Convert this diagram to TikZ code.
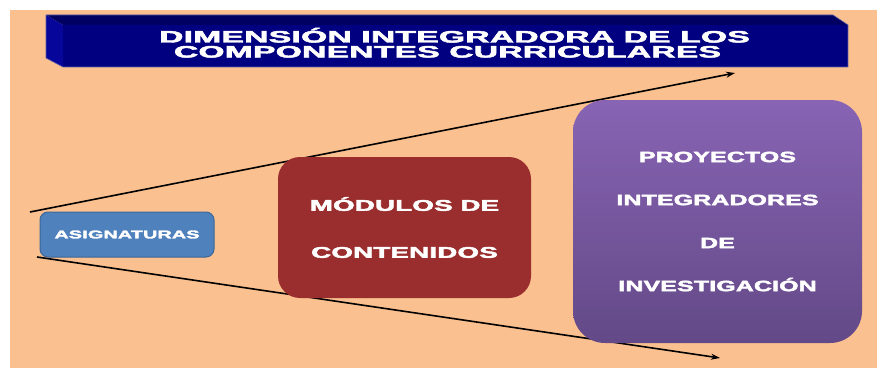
\documentclass[tikz,border=0pt]{standalone}
\usepackage{fontspec}
\usetikzlibrary{positioning, arrows.meta}
\newfontfamily\boxfont{Liberation Sans Bold}[LetterSpace=1, FakeBold=2.5]
\newcommand{\widetxt}[2][1.65]{\scalebox{#1}[1]{#2}}
\definecolor{peachBack}{HTML}{FAC08F}
\definecolor{navyFront}{HTML}{000080}
\definecolor{navyTop}{HTML}{000062}
\definecolor{navySide}{HTML}{06069A}
\definecolor{navyEdge}{HTML}{5A5AA8}
\definecolor{asigFill}{HTML}{4F81BD}
\definecolor{asigLine}{HTML}{3C6698}
\definecolor{modFill}{HTML}{9A2D2D}
\definecolor{proyTop}{HTML}{8864B4}
\definecolor{proyBottom}{HTML}{634987}
\tikzset{
    asig_box/.style={
        rectangle,
        rounded corners=8pt,
        draw=asigLine,
        line width=1pt,
        fill=asigFill,
        outer sep=0pt,
        minimum width=174pt,
        minimum height=45pt,
        text=white,
        font=\boxfont\fontsize{11.2}{14}\selectfont
    },
    mod_box/.style={
        rectangle,
        rounded corners=22pt,
        fill=modFill,
        outer sep=0pt,
        minimum width=253pt,
        minimum height=141pt,
        text=white,
        align=center,
        font=\boxfont\fontsize{15.5}{47}\selectfont
    },
    proy_box/.style={
        rectangle,
        rounded corners=32pt,
        top color=proyTop,
        bottom color=proyBottom,
        outer sep=0pt,
        minimum width=289pt,
        minimum height=243pt,
        text=white,
        align=center,
        font=\boxfont\fontsize{15}{43}\selectfont
    },
    title_text/.style={
        text=white,
        anchor=base,
        inner sep=0pt,
        font=\boxfont\fontsize{16.5}{15}\selectfont
    },
    flow_edge/.style={
        -{Stealth[length=9pt, width=6pt]},
        line width=1.6pt,
        draw=black
    }
}
\begin{document}
\begin{tikzpicture}[x=1pt, y=-1pt]
    \useasboundingbox (0,0) rectangle (877,369);
    \fill[peachBack] (10,10) rectangle (877,368);

    % title bar
    \fill[navyTop] (46,15) -- (833,15) -- (848,25) -- (63,25) -- cycle;
    \fill[navySide] (46,15) -- (63,25) -- (63,67) -- (46,58) -- cycle;
    \fill[navyFront] (63,25) rectangle (848,67);
    \draw[navyEdge, line width=0.6pt] (46,15) -- (833,15) -- (848,25) -- (848,67) -- (63,67) -- (46,58) -- cycle;
    \node[title_text] (titleA) at (454.5,42.5) {\widetxt[2.03]{DIMENSIÓN INTEGRADORA DE LOS}};
    \node[title_text] (titleB) at (447.5,57.5) {\widetxt[2.03]{COMPONENTES CURRICULARES}};

    \node[asig_box] (asig) at (127,234.5) {\widetxt[1.76]{ASIGNATURAS}};

    \coordinate (upStart) at ([xshift=-10pt]asig.north west);
    \coordinate (lowStart) at ([xshift=-3pt]asig.south west);
    \coordinate (upEnd) at (735,73);
    \coordinate (lowEnd) at (720,358);
    \draw[flow_edge] (upStart) -- (upEnd);
    \draw[flow_edge] (lowStart) -- (lowEnd);

    \node[mod_box, right=64pt of asig, yshift=7pt] (modulos) {\widetxt[1.78]{MÓDULOS DE}\\\widetxt[1.78]{CONTENIDOS}};
    \node[proy_box, right=42pt of modulos, yshift=6pt] (proyectos) {\widetxt{PROYECTOS}\\\widetxt{INTEGRADORES}\\\widetxt{DE}\\\widetxt{INVESTIGACIÓN}};
\end{tikzpicture}
\end{document}
